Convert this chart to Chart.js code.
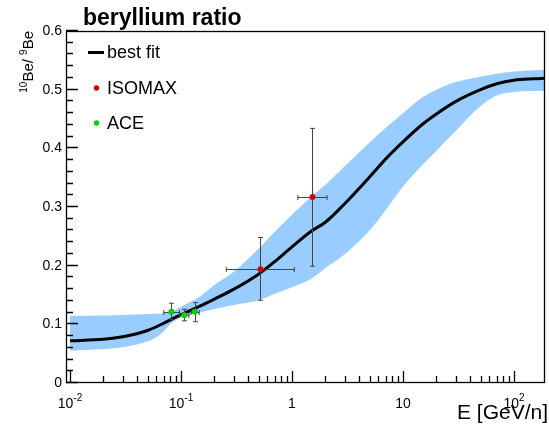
<!DOCTYPE html>
<html><head><meta charset="utf-8">
<script src="https://cdn.jsdelivr.net/npm/chart.js@4/dist/chart.umd.min.js"></script>
<style>html,body{margin:0;padding:0;background:#fff;}#wrap{width:549px;height:426px;position:relative;}</style>
</head><body><div id="wrap"><canvas id="c" width="549" height="426"></canvas></div>
<script>
// ---- data ----
const bandE     = [0.01, 0.02, 0.03, 0.045, 0.06, 0.07, 0.08, 0.09, 0.1, 0.15, 0.2, 0.3, 0.5, 0.7, 1, 1.5, 2, 3, 5, 7, 10, 15, 20, 30, 50, 70, 100, 190];
const bandUpper = [0.114, 0.115, 0.116, 0.117, 0.118, 0.119, 0.121, 0.125, 0.130, 0.148, 0.167, 0.190, 0.229, 0.258, 0.287, 0.318, 0.338, 0.370, 0.410, 0.435, 0.460, 0.487, 0.500, 0.513, 0.522, 0.527, 0.531, 0.534];
const bandLower = [0.055, 0.058, 0.061, 0.068, 0.078, 0.088, 0.100, 0.107, 0.112, 0.120, 0.126, 0.133, 0.141, 0.152, 0.163, 0.178, 0.196, 0.220, 0.260, 0.295, 0.335, 0.372, 0.396, 0.430, 0.472, 0.490, 0.496, 0.498];
const fitE      = [0.01, 0.02, 0.03, 0.04, 0.05, 0.07, 0.1, 0.15, 0.2, 0.3, 0.5, 0.7, 1, 1.5, 2, 3, 5, 7, 10, 15, 20, 30, 50, 70, 100, 150, 190];
const fitRatio  = [0.072, 0.0745, 0.079, 0.084, 0.0895, 0.102, 0.1165, 0.1315, 0.143, 0.160, 0.1855, 0.207, 0.232, 0.259, 0.274, 0.306, 0.351, 0.382, 0.411, 0.441, 0.4585, 0.480, 0.500, 0.510, 0.516, 0.5185, 0.5195];

const isomaxE         = [0.52, 1.53];
const isomaxRatio    = [0.194, 0.317];
const isomaxELow     = [0.256, 1.13];
const isomaxEHigh    = [1.05, 2.07];
const isomaxRatioLow = [0.141, 0.199];
const isomaxRatioHigh= [0.248, 0.434];

const aceE         = [0.082, 0.107, 0.1334];
const aceRatio     = [0.1216, 0.1154, 0.1216];
const aceELow      = [0.070, 0.0966, 0.123];
const aceEHigh     = [0.097, 0.118, 0.146];
const aceRatioLow  = [0.1085, 0.106, 0.1045];
const aceRatioHigh = [0.136, 0.1256, 0.137];

const xTickValues = [0.01, 0.1, 1, 10, 100];
const xTickBases  = ['10', '10', '1', '10', '10'];
const xTickExps   = ['-2', '-1', '', '', '2'];
const yTickValues = [0, 0.1, 0.2, 0.3, 0.4, 0.5, 0.6];
const yTickLabels = ['0', '0.1', '0.2', '0.3', '0.4', '0.5', '0.6'];

const titleText = 'beryllium ratio';
const xTitle = 'E [GeV/n]';
const seriesNames = ['best fit', 'ISOMAX', 'ACE'];

// ---- styles ----
const FONT = '"Liberation Sans", Arial, Helvetica, sans-serif';
const BAND = 'rgb(153,204,255)';
const RED = 'rgb(210,0,0)';
const GREEN = 'rgb(0,210,0)';
const ERR = '#444';

const pts = (xs, ys) => xs.map((x, i) => ({x, y: ys[i]}));

function drawErrorBars(chart, xs, ys, xl, xh, yl, yh) {
  const ctx = chart.ctx, sx = chart.scales.x, sy = chart.scales.y;
  ctx.save();
  ctx.strokeStyle = ERR; ctx.lineWidth = 1;
  for (let i = 0; i < xs.length; i++) {
    const px = Math.round(sx.getPixelForValue(xs[i])) + 0.5;
    const py = Math.round(sy.getPixelForValue(ys[i])) + 0.5;
    const x1 = sx.getPixelForValue(xl[i]), x2 = sx.getPixelForValue(xh[i]);
    const y1 = sy.getPixelForValue(yl[i]), y2 = sy.getPixelForValue(yh[i]);
    ctx.beginPath();
    ctx.moveTo(x1, py); ctx.lineTo(x2, py);
    ctx.moveTo(px, y1); ctx.lineTo(px, y2);
    ctx.moveTo(x1, py - 2.5); ctx.lineTo(x1, py + 2.5);
    ctx.moveTo(x2, py - 2.5); ctx.lineTo(x2, py + 2.5);
    ctx.moveTo(px - 2.5, y1); ctx.lineTo(px + 2.5, y1);
    ctx.moveTo(px - 2.5, y2); ctx.lineTo(px + 2.5, y2);
    ctx.stroke();
  }
  ctx.restore();
}

const decor = {
  id: 'decor',
  afterDatasetDraw(chart, args) {
    if (args.index === 2) {
      drawErrorBars(chart, isomaxE, isomaxRatio, isomaxELow, isomaxEHigh, isomaxRatioLow, isomaxRatioHigh);
      drawErrorBars(chart, aceE, aceRatio, aceELow, aceEHigh, aceRatioLow, aceRatioHigh);
    }
  },
  afterDraw(chart) {
    const ctx = chart.ctx, a = chart.chartArea, sx = chart.scales.x, sy = chart.scales.y;
    ctx.save();
    const L = Math.round(a.left), R = Math.round(a.right), T = Math.round(a.top), B = Math.round(a.bottom);
    // frame
    ctx.strokeStyle = '#000';
    ctx.lineWidth = 1.3;
    ctx.strokeRect(L + 0.5, T + 0.5, R - L - 1, B - T - 1);
    // ticks (inward), ROOT style
    ctx.beginPath();
    for (let k = 0; k <= 30; k++) {
      const py = Math.round(sy.getPixelForValue(k * 0.02)) - 0.5;
      const len = (k % 5 === 0) ? 11 : 6;
      ctx.moveTo(L, py); ctx.lineTo(L + 1 + len, py);
    }
    for (let d = -2; d <= 2; d++) {
      for (let m = 1; m <= 9; m++) {
        const v = m * Math.pow(10, d);
        if (v > 190) continue;
        const px = Math.round(sx.getPixelForValue(v)) + 0.5;
        const len = (m === 1) ? 11 : 6;
        ctx.moveTo(px, B); ctx.lineTo(px, B - 1 - len);
      }
    }
    ctx.stroke();
    ctx.fillStyle = '#000';
    // x tick labels
    ctx.textBaseline = 'alphabetic';
    for (let i = 0; i < xTickValues.length; i++) {
      const px = sx.getPixelForValue(xTickValues[i]);
      ctx.font = '14px ' + FONT;
      const wb = ctx.measureText(xTickBases[i]).width;
      ctx.font = '10px ' + FONT;
      const we = xTickExps[i] ? ctx.measureText(xTickExps[i]).width : 0;
      const x0 = px - (wb + we) / 2;
      ctx.font = '14px ' + FONT;
      ctx.textAlign = 'left';
      ctx.fillText(xTickBases[i], x0, 408);
      if (xTickExps[i]) {
        ctx.font = '10px ' + FONT;
        ctx.fillText(xTickExps[i], x0 + wb, 401);
      }
    }
    // title
    ctx.font = 'bold 23px ' + FONT;
    ctx.textAlign = 'left';
    ctx.fillText(titleText, 83, 25);
    // x axis title
    ctx.font = '21px ' + FONT;
    ctx.textAlign = 'right';
    ctx.fillText(xTitle, 548, 419);
    // y axis title: ^{10}Be/ ^{9}Be, rotated, right aligned at the top of the frame
    ctx.save();
    ctx.translate(33, a.top);
    ctx.rotate(-Math.PI / 2);
    const parts = [['10', true], ['Be/ ', false], ['9', true], ['Be', false]];
    let total = 0;
    const widths = parts.map(([t, sup]) => { ctx.font = (sup ? '10px ' : '15px ') + FONT; const w = ctx.measureText(t).width; total += w; return w; });
    let cx = -total;
    ctx.textAlign = 'left';
    parts.forEach(([t, sup], i) => {
      ctx.font = (sup ? '10px ' : '15px ') + FONT;
      ctx.fillText(t, cx, sup ? -6 : 0);
      cx += widths[i];
    });
    ctx.restore();
    // legend
    ctx.font = '18px ' + FONT;
    ctx.textAlign = 'left';
    ctx.textBaseline = 'middle';
    ctx.fillRect(88, 51, 16, 3);
    ctx.fillText(chart.data.datasets[2].label, 107, 53);
    ctx.fillStyle = RED; ctx.beginPath(); ctx.arc(96.5, 88, 2.7, 0, Math.PI * 2); ctx.fill();
    ctx.fillStyle = '#000'; ctx.fillText(chart.data.datasets[3].label, 107, 89);
    ctx.fillStyle = GREEN; ctx.beginPath(); ctx.arc(96.5, 123, 2.7, 0, Math.PI * 2); ctx.fill();
    ctx.fillStyle = '#000'; ctx.fillText(chart.data.datasets[4].label, 107, 124);
    ctx.restore();
  }
};

new Chart(document.getElementById('c'), {
  type: 'line',
  data: {
    datasets: [
      { label: 'band low', data: pts(bandE, bandLower), borderWidth: 0, pointRadius: 0, fill: false, order: 4, borderColor: 'rgba(0,0,0,0)' },
      { label: 'band high', data: pts(bandE, bandUpper), borderWidth: 0, pointRadius: 0, fill: '-1', backgroundColor: BAND, order: 3, borderColor: 'rgba(0,0,0,0)' },
      { label: seriesNames[0], data: pts(fitE, fitRatio), borderColor: '#000', borderWidth: 3, pointRadius: 0, fill: false, order: 2 },
      { label: seriesNames[1], data: pts(isomaxE, isomaxRatio), showLine: false, pointRadius: 3, pointBackgroundColor: RED, pointBorderWidth: 0, borderColor: RED, order: 1 },
      { label: seriesNames[2], data: pts(aceE, aceRatio), showLine: false, pointRadius: 3, pointBackgroundColor: GREEN, pointBorderWidth: 0, borderColor: GREEN, order: 0 }
    ]
  },
  options: {
    responsive: false,
    animation: false,
    devicePixelRatio: 1,
    layout: { padding: { left: 0, top: 31, right: 1, bottom: 0 } },
    plugins: { legend: { display: false }, title: { display: false }, tooltip: { enabled: false } },
    elements: { line: { cubicInterpolationMode: 'monotone' } },
    scales: {
      x: {
        type: 'logarithmic', min: 0.00921, max: 190.3,
        grid: { display: false, drawTicks: false }, border: { display: false },
        ticks: { display: false },
        afterFit(s) { s.height = 43; }
      },
      y: {
        type: 'linear', min: 0, max: 0.6,
        grid: { display: false, drawTicks: false }, border: { display: false },
        afterBuildTicks(s) { s.ticks = yTickValues.map(v => ({ value: v })); },
        ticks: {
          padding: 4, color: '#000', font: { family: FONT, size: 14 },
          callback: (v) => { const i = yTickValues.findIndex(t => Math.abs(t - v) < 1e-9); return i >= 0 ? yTickLabels[i] : ''; }
        },
        afterFit(s) { s.width = 66; }
      }
    }
  },
  plugins: [decor]
});
</script>
</body></html>
